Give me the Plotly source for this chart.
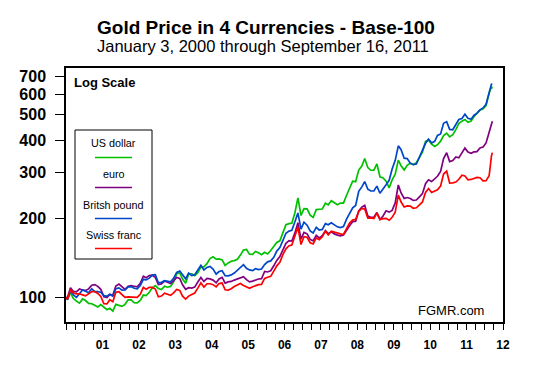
import plotly.graph_objects as go

# ---------------- data (index, Jan 3 2000 = 100) ----------------
years = list(range(2000, 2012))
dates = ["2000-01-03"] + [f"{y}-{m:02d}-15" for y in years for m in range(1, 13)
                          if not (y == 2011 and m > 8)] + ["2011-09-07", "2011-09-16"]

usd = [100,
       98.1, 104.0, 98.8, 96.6, 94.9, 98.5, 97.1, 94.7, 94.4, 93.1, 91.7, 93.6,
       91.6, 89.5, 90.7, 88.5, 93.9, 93.2, 92.2, 93.9, 97.7, 97.6, 95.2, 95.1,
       97.1, 101.9, 101.4, 104.4, 108.4, 110.8, 108.0, 107.0, 110.1, 109.2, 110.0, 114.6,
       123.1, 123.8, 117.4, 113.2, 122.7, 122.9, 121.0, 124.1, 130.7, 130.7, 134.4, 140.6,
       142.8, 139.8, 140.2, 139.0, 132.3, 135.3, 137.3, 138.1, 139.8, 145.0, 151.5, 152.4,
       146.2, 146.0, 149.7, 147.9, 145.5, 148.5, 146.4, 151.0, 157.2, 162.0, 164.4, 175.9,
       189.6, 191.4, 192.1, 210.6, 240.0, 205.6, 218.6, 218.1, 206.3, 202.0, 216.5, 217.2,
       217.7, 229.2, 225.8, 234.3, 230.0, 226.0, 229.4, 229.4, 245.8, 260.2, 278.0, 277.0,
       306.8, 318.0, 340.0, 313.7, 306.4, 306.7, 324.1, 289.3, 286.2, 278.1, 262.4, 281.4,
       296.1, 335.0, 318.7, 307.0, 320.2, 326.1, 322.1, 327.4, 343.7, 359.7, 395.0, 400.0,
       385.5, 377.7, 383.9, 396.1, 415.7, 425.1, 411.3, 419.2, 438.3, 462.8, 472.4, 479.5,
       467.7, 473.3, 491.0, 508.2, 520.8, 527.1, 542.3, 605.4, 640.0, 630.0]

eur = [100,
       99.5, 108.7, 105.2, 104.8, 107.6, 106.6, 106.1, 107.6, 111.2, 111.8, 110.0, 107.2,
       100.3, 99.7, 102.5, 101.9, 110.3, 112.2, 110.0, 107.1, 110.1, 110.7, 110.1, 109.5,
       112.9, 120.3, 118.8, 121.0, 121.4, 119.1, 111.8, 112.4, 115.3, 114.3, 112.9, 115.6,
       119.0, 118.0, 111.6, 107.2, 108.8, 108.3, 109.3, 114.4, 119.0, 114.9, 118.0, 117.5,
       116.3, 113.5, 117.5, 119.1, 113.2, 114.5, 114.9, 116.3, 117.4, 119.2, 119.8, 116.7,
       114.5, 115.2, 116.6, 117.4, 117.7, 125.5, 124.9, 126.2, 131.9, 138.3, 143.2, 152.3,
       160.8, 164.6, 164.1, 176.3, 193.0, 166.9, 177.1, 174.9, 166.5, 164.4, 172.6, 168.8,
       172.0, 179.9, 175.2, 178.1, 174.8, 172.9, 171.8, 173.0, 181.6, 187.9, 194.6, 195.3,
       214.1, 221.3, 225.0, 204.5, 202.2, 202.4, 211.0, 198.5, 204.6, 214.4, 211.8, 215.0,
       229.7, 269.0, 250.8, 239.0, 240.9, 239.0, 234.8, 235.6, 242.4, 249.3, 272.0, 281.6,
       277.4, 283.6, 290.5, 303.4, 339.9, 357.6, 330.8, 334.0, 344.4, 341.9, 355.2, 372.5,
       359.5, 356.1, 360.2, 361.2, 373.2, 376.2, 390.0, 433.9, 466.0, 472.0]

gbp = [100,
       97.7, 106.1, 102.1, 99.9, 102.9, 106.6, 105.4, 104.0, 107.8, 105.0, 105.1, 104.5,
       101.4, 100.8, 102.6, 100.8, 107.8, 108.6, 106.5, 106.7, 109.6, 109.8, 108.2, 107.7,
       110.9, 117.1, 116.5, 118.3, 121.5, 121.9, 113.5, 114.0, 115.7, 114.8, 114.5, 118.1,
       124.5, 125.9, 121.3, 117.6, 123.7, 121.0, 122.0, 127.2, 132.5, 127.1, 130.0, 131.2,
       128.1, 122.5, 125.4, 126.3, 121.0, 120.8, 121.7, 123.7, 126.9, 130.7, 133.2, 129.1,
       127.2, 126.4, 128.6, 127.6, 128.2, 133.4, 136.6, 137.7, 142.1, 150.2, 154.9, 164.6,
       175.8, 179.1, 180.3, 194.4, 210.3, 182.3, 193.8, 188.7, 179.3, 176.1, 185.1, 180.9,
       181.8, 191.4, 189.4, 192.8, 189.5, 186.0, 184.7, 186.5, 199.1, 207.9, 219.9, 224.6,
       254.3, 264.6, 277.4, 259.4, 255.2, 255.2, 266.4, 250.2, 261.3, 269.5, 280.5, 309.8,
       334.3, 380.0, 367.2, 340.8, 339.7, 326.1, 321.9, 323.8, 344.5, 364.4, 388.7, 403.2,
       390.0, 395.4, 416.5, 421.9, 463.6, 470.6, 439.5, 437.9, 459.7, 479.2, 483.9, 502.5,
       484.6, 480.0, 496.8, 507.0, 521.8, 531.0, 548.4, 606.9, 654.0, 655.0]

chf = [100,
       98.1, 107.1, 103.7, 103.0, 103.1, 102.1, 101.2, 103.1, 105.1, 105.1, 103.4, 100.6,
       94.4, 94.2, 97.8, 96.1, 104.4, 104.9, 102.1, 99.9, 100.3, 100.1, 99.6, 99.9,
       102.6, 109.1, 107.2, 109.1, 109.0, 107.5, 100.3, 101.0, 103.6, 102.8, 101.6, 103.9,
       107.0, 106.1, 100.9, 98.3, 101.0, 102.5, 103.8, 108.3, 113.6, 109.3, 112.6, 112.6,
       111.7, 109.5, 112.9, 113.3, 106.8, 106.5, 107.7, 109.8, 111.4, 112.8, 110.9, 109.6,
       108.2, 109.7, 110.9, 111.7, 111.9, 118.1, 119.3, 120.2, 125.9, 131.9, 136.0, 145.5,
       153.2, 157.5, 158.4, 170.8, 185.5, 159.1, 170.5, 169.7, 161.7, 160.0, 168.6, 166.2,
       170.3, 179.2, 173.2, 179.0, 177.3, 175.6, 174.8, 173.9, 183.4, 192.3, 197.4, 198.9,
       213.2, 218.8, 217.6, 200.8, 201.3, 200.3, 210.0, 198.5, 200.1, 200.5, 197.1, 202.3,
       211.7, 245.9, 231.4, 221.7, 223.8, 223.3, 219.1, 220.0, 225.7, 231.7, 252.0, 260.8,
       252.0, 255.7, 257.7, 266.6, 296.4, 303.9, 273.8, 274.0, 276.0, 283.0, 293.3, 291.3,
       281.8, 282.5, 285.3, 287.6, 286.9, 279.0, 279.5, 291.8, 347.0, 358.0]

series_names = ["US dollar", "euro", "Britsh pound", "Swiss franc"]
series_values = [usd, eur, gbp, chf]
series_colors = ["#00c000", "#800080", "#0047c8", "#ff0000"]

y_ticks = [100, 200, 300, 400, 500, 600, 700]
x_tick_dates = [f"{y}-01-01" for y in range(2001, 2013)]
x_tick_text = [f"{y % 100:02d}" for y in range(2001, 2013)]

# ---------------- figure ----------------
FONT = "Liberation Sans, Arial, sans-serif"
OFF = 8                        # default page body margin in the saved html
WIN_W, WIN_H = 537, 365        # window size (reference pixel frame)
W, H = WIN_W - OFF, WIN_H - OFF
# plot area in reference (window) pixels
X0, X1, Y0, Y1 = 66, 503, 68, 322
L, R, T, B = X0 - OFF, W - (X1 - OFF), Y0 - OFF, H - (Y1 - OFF)
PW, PH = X1 - X0, Y1 - Y0


def px(xp):
    return (xp - X0) / PW


def py(yp):
    return (Y1 - yp) / PH


fig = go.Figure()
for name, vals, col in zip(series_names, series_values, series_colors):
    fig.add_trace(go.Scatter(x=dates, y=vals, mode="lines", name=name,
                             line=dict(color=col, width=1.7), showlegend=False))

fig.update_layout(
    width=W, height=H, autosize=False,
    margin=dict(l=L, r=R, t=T, b=B, pad=0),
    paper_bgcolor="white", plot_bgcolor="white",
    font=dict(family=FONT, color="black"),
    xaxis=dict(type="date", range=["2000-01-01", "2012-01-01"],
               tickmode="array", tickvals=x_tick_dates, ticktext=x_tick_text,
               ticks="outside", ticklen=6, tickwidth=1, tickcolor="black",
               showline=True, linecolor="black", linewidth=1.5, mirror=True,
               showgrid=False, zeroline=False,
               tickfont=dict(family=FONT, size=12, weight="bold"),
               ticklabelstandoff=5,
               minor=dict(ticks="outside", ticklen=6, tickwidth=1, tickcolor="black",
                          dtick="M3", tick0="2000-01-01", showgrid=False)),
    yaxis=dict(type="log", range=[1.905, 2.878],
               tickmode="array", tickvals=y_ticks, ticktext=[str(v) for v in y_ticks],
               ticks="outside", ticklen=9, tickwidth=1, tickcolor="black",
               showline=True, linecolor="black", linewidth=1.5, mirror=True,
               showgrid=False, zeroline=False,
               tickfont=dict(family=FONT, size=16, weight="bold"),
               ticklabelstandoff=6),
)

ann = [
    dict(text="<b>Gold Price in 4 Currencies - Base-100</b>", x=px(265.5), y=py(27),
         font=dict(size=19)),
    dict(text="January 3, 2000 through September 16, 2011", x=px(262.5), y=py(46.5),
         font=dict(size=16.5)),
    dict(text="<b>Log Scale</b>", x=px(72), y=py(82), xanchor="left", font=dict(size=13)),
    dict(text="FGMR.com", x=px(486), y=py(310), xanchor="right", font=dict(size=13)),
]
for a in ann:
    a.setdefault("xanchor", "center")
    fig.add_annotation(xref="paper", yref="paper", showarrow=False, yanchor="middle",
                       font_family=FONT, font_color="black", **a)

# legend box (text above a colored line sample)
fig.add_shape(type="rect", xref="paper", yref="paper",
              x0=px(75), x1=px(152), y0=py(130), y1=py(259),
              line=dict(color="black", width=1), fillcolor="white")
text_y = [143, 174, 205, 235]
line_y = [157.5, 187.5, 218.5, 248.5]
for name, col, ty, ly in zip(series_names, series_colors, text_y, line_y):
    fig.add_annotation(xref="paper", yref="paper", showarrow=False, text=name,
                       x=px(113.5), y=py(ty), xanchor="center", yanchor="middle",
                       font=dict(family=FONT, size=10.8, color="black"))
    fig.add_shape(type="line", xref="paper", yref="paper",
                  x0=px(95), x1=px(132), y0=py(ly), y1=py(ly),
                  line=dict(color=col, width=1.5))

fig.write_html("out.html")
